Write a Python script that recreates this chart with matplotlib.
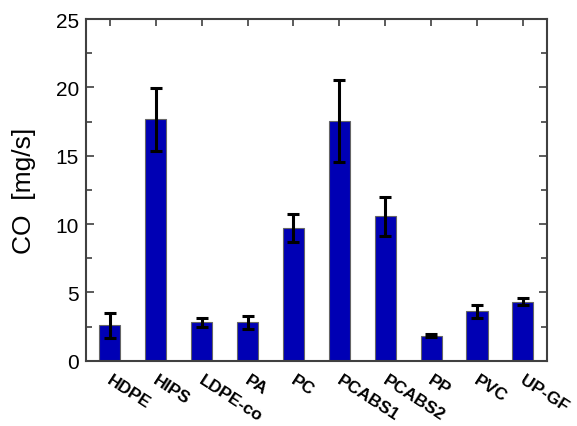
import matplotlib
matplotlib.use("Agg")
import matplotlib.pyplot as plt
from matplotlib.ticker import MultipleLocator

plt.rcParams['font.family'] = ['Liberation Sans', 'DejaVu Sans']

categories = ["HDPE", "HIPS", "LDPE-co", "PA", "PC", "PCABS1", "PCABS2", "PP", "PVC", "UP-GF"]
co_values = [2.6, 17.65, 2.8, 2.8, 9.68, 17.56, 10.56, 1.82, 3.6, 4.3]
co_errors = [0.92, 2.3, 0.35, 0.45, 1.03, 3.0, 1.45, 0.1, 0.45, 0.25]
y_ticks = [0, 5, 10, 15, 20, 25]

fig = plt.figure(figsize=(5.77, 4.27), dpi=100)
ax = fig.add_axes([0.149, 0.153, 0.7985, 0.800])

x = list(range(len(categories)))
ax.bar(x, co_values, width=0.46, color='#0000B4', edgecolor='#666666', linewidth=0.8, zorder=2)
ax.errorbar(x, co_values, yerr=co_errors, fmt='none', ecolor='black', elinewidth=2.2,
            capsize=4.5, capthick=2.2, zorder=3)

ax.set_xlim(-0.52, 9.52)
ax.set_ylim(0, 25)
ax.set_yticks(y_ticks)
ax.yaxis.set_minor_locator(MultipleLocator(2.5))
ax.tick_params(axis='y', which='both', direction='in', right=True, left=True, labelsize=15,
               color='#404040', width=1.2, pad=5)
ax.tick_params(axis='y', which='major', length=6)
ax.tick_params(axis='y', which='minor', length=4)

ax.set_xticks(x)
ax.set_xticklabels([])
ax.tick_params(axis='x', which='both', direction='in', top=True, bottom=False, length=5,
               color='#404040', width=1.2)
for xi, lab in zip(x, categories):
    ax.text(xi + 0.06, -0.8, lab, rotation=-33, rotation_mode='anchor', ha='left', va='top',
            fontsize=12.5, fontweight='bold', transform=ax.transData, clip_on=False)

for sp in ax.spines.values():
    sp.set_color('#404040')
    sp.set_linewidth(1.5)

ax.set_ylabel('CO  [mg/s]', fontsize=19, labelpad=14)

fig.savefig('out.png', dpi=100)
